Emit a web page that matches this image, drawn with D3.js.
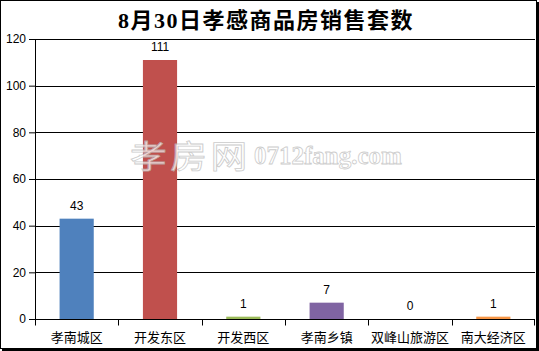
<!DOCTYPE html>
<html>
<head>
<meta charset="utf-8">
<script src="https://cdn.jsdelivr.net/npm/d3@7"></script>
<style>
  body { margin: 0; background: #fff; }
  text { font-family: "Liberation Sans", "Noto Sans CJK SC", sans-serif; }
</style>
</head>
<body>
<svg id="chart" width="539" height="351"></svg>
<script>
var categories = ["孝南城区", "开发东区", "开发西区", "孝南乡镇", "双峰山旅游区", "南大经济区"];
var values = [43, 111, 1, 7, 0, 1];
var colors = ["#4f81bd", "#c0504d", "#9bbb59", "#8064a2", "#4bacc6", "#f79646"];
var yTicks = [0, 20, 40, 60, 80, 100, 120];
var title = "8月30日孝感商品房销售套数";

var svg = d3.select("#chart");

// frame (drawn first so the chart sits on top)
svg.append("rect").attr("x", 0.5).attr("y", 0.5).attr("width", 536).attr("height", 348)
    .attr("fill", "#fff").attr("stroke", "#000");
svg.append("rect").attr("x", 536).attr("y", 2).attr("width", 3).attr("height", 349).attr("fill", "#000");
svg.append("rect").attr("x", 2).attr("y", 348).attr("width", 537).attr("height", 3).attr("fill", "#000");

var margin = {top: 39, right: 4, bottom: 32, left: 35},
    width = 535 - margin.left,
    height = 319 - margin.top,
    g = svg.append("g").attr("transform", "translate(" + margin.left + "," + margin.top + ")");

var x = d3.scaleBand().domain(categories).range([0, width]).paddingInner(0.59).paddingOuter(0.295),
    xb = d3.scaleBand().domain(categories).range([0, width]),
    y = d3.scaleLinear().domain([0, 120]).range([height, 0]);

// title
svg.append("text")
    .attr("x", 266).attr("y", 28)
    .attr("text-anchor", "middle")
    .style("font-family", "'Liberation Serif', 'Noto Sans CJK SC', serif")
    .style("font-size", "22px").style("font-weight", "bold")
    .style("letter-spacing", "1.5px")
    .text(title);

// gridlines
g.append("g").selectAll("line").data(yTicks.slice(1)).enter().append("line")
    .attr("x1", 0).attr("x2", width)
    .attr("y1", function(d) { return Math.round(y(d)) + 0.5; })
    .attr("y2", function(d) { return Math.round(y(d)) + 0.5; })
    .attr("stroke", "#000");

// bars
g.selectAll(".bar").data(values).enter().append("rect")
    .attr("class", "bar")
    .attr("x", function(d, i) { return x(categories[i]); })
    .attr("width", x.bandwidth())
    .attr("y", function(d) { return y(d); })
    .attr("height", function(d) { return height - y(d); })
    .attr("fill", function(d, i) { return colors[i]; });

// value labels
g.selectAll(".val").data(values).enter().append("text")
    .attr("x", function(d, i) { return x(categories[i]) + x.bandwidth() / 2; })
    .attr("y", function(d) { return y(d) - 9; })
    .attr("text-anchor", "middle")
    .style("font-size", "12px")
    .text(function(d) { return d; });

// y axis
var yAxis = g.append("g")
    .call(d3.axisLeft(y).tickValues(yTicks).tickSize(6).tickPadding(3));
yAxis.select(".domain").attr("stroke", "#000").attr("d", "M0.5,0V" + height);
yAxis.selectAll("text").style("font-size", "12px").attr("fill", "#000");

// x axis
var xAxis = g.append("g").attr("transform", "translate(0," + (height + 0.5) + ")");
xAxis.append("line").attr("x1", 0).attr("x2", width).attr("stroke", "#000");
xAxis.selectAll(".tk").data(categories.concat([null])).enter().append("line")
    .attr("x1", function(d, i) { return i < categories.length ? Math.round(xb(d)) + 0.5 : width - 0.5; })
    .attr("x2", function(d, i) { return i < categories.length ? Math.round(xb(d)) + 0.5 : width - 0.5; })
    .attr("y1", 0).attr("y2", 6).attr("stroke", "#000");
xAxis.selectAll(".cat").data(categories).enter().append("text")
    .attr("x", function(d) { return xb(d) + xb.bandwidth() / 2; })
    .attr("y", 22)
    .attr("text-anchor", "middle")
    .style("font-family", "'Noto Sans CJK SC', sans-serif")
    .style("font-size", "13px")
    .text(function(d) { return d; });

// watermark
var wm = svg.append("g").attr("opacity", 0.75);
wm.append("text").attr("x", 130).attr("y", 168)
    .attr("transform", "translate(130,0) scale(1.15,1) translate(-130,0)")
    .style("font-family", "'Noto Sans CJK SC', sans-serif")
    .style("font-size", "32px").style("letter-spacing", "3px")
    .attr("fill", "#fff").attr("stroke", "#bbb").attr("stroke-width", 0.8)
    .text("孝房网");
wm.append("text").attr("x", 254).attr("y", 164)
    .style("font-family", "'Liberation Serif', serif")
    .style("font-size", "25px").style("font-weight", "bold")
    .attr("fill", "#fff").attr("stroke", "#bbb").attr("stroke-width", 0.8)
    .text("0712fang.com");
</script>
</body>
</html>
